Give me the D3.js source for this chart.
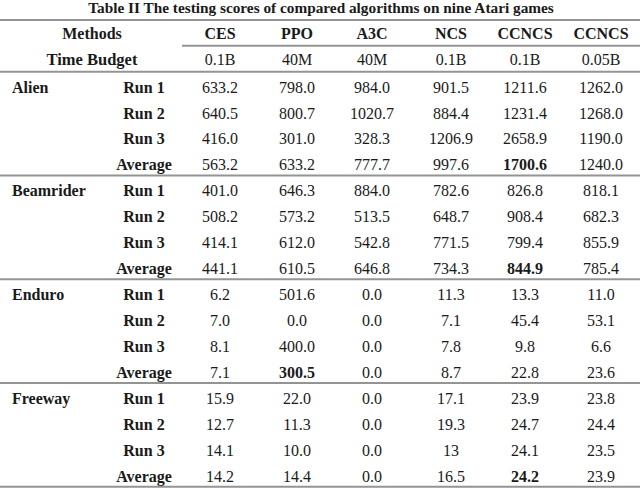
<html>
<head>
<meta charset="utf-8">
<title>Table II</title>
<style>
  body { margin: 0; background: #fff; }
</style>
</head>
<body>
<svg id="chart" width="640" height="488"></svg>
<script src="https://cdn.jsdelivr.net/npm/d3@7/dist/d3.min.js"></script>
<script>
// table contents
const title = "Table II The testing scores of compared algorithms on nine Atari games";
const methods = ["CES", "PPO", "A3C", "NCS", "CCNCS", "CCNCS"];
const budgets = ["0.1B", "40M", "40M", "0.1B", "0.1B", "0.05B"];
const games = ["Alien", "Beamrider", "Enduro", "Freeway"];
const runs = ["Run 1", "Run 2", "Run 3", "Average"];

// one list per method column, rows in order game x run
const ces   = ["633.2","640.5","416.0","563.2", "401.0","508.2","414.1","441.1", "6.2","7.0","8.1","7.1", "15.9","12.7","14.1","14.2"];
const ppo   = ["798.0","800.7","301.0","633.2", "646.3","573.2","612.0","610.5", "501.6","0.0","400.0","300.5", "22.0","11.3","10.0","14.4"];
const a3c   = ["984.0","1020.7","328.3","777.7", "884.0","513.5","542.8","646.8", "0.0","0.0","0.0","0.0", "0.0","0.0","0.0","0.0"];
const ncs   = ["901.5","884.4","1206.9","997.6", "782.6","648.7","771.5","734.3", "11.3","7.1","7.8","8.7", "17.1","19.3","13","16.5"];
const ccncs = ["1211.6","1231.4","2658.9","1700.6", "826.8","908.4","799.4","844.9", "13.3","45.4","9.8","22.8", "23.9","24.7","24.1","24.2"];
const ccncs05 = ["1262.0","1268.0","1190.0","1240.0", "818.1","682.3","855.9","785.4", "11.0","53.1","6.6","23.6", "23.8","24.4","23.5","23.9"];
const columns = [ces, ppo, a3c, ncs, ccncs, ccncs05];

const svg = d3.select("#chart").style("font-family", '"Liberation Serif", "Times New Roman", serif');
const W = 640;
const ink = "#1a1a1a";

// column centres (uneven, as in the source table)
const colX = d3.scaleOrdinal().domain(d3.range(6)).range([220, 297, 372, 451, 525, 601]);
// body rows
const nRows = games.length * runs.length;
const y = d3.scaleBand().domain(d3.range(nRows)).range([72, 487]);

const rule = "#949494";
function hline(x1, x2, yy) {
  svg.append("line").attr("x1", x1).attr("x2", x2).attr("y1", yy).attr("y2", yy)
    .attr("stroke", rule).attr("stroke-width", 2);
}
function label(x, yy, s, opts) {
  return svg.append("text").attr("x", x).attr("y", yy).attr("dy", "0.35em")
    .attr("text-anchor", opts.anchor || "middle")
    .attr("font-weight", opts.bold ? "bold" : "normal")
    .attr("font-size", opts.size || 16).attr("fill", ink).text(s);
}

// title
label(321, 8, title, { bold: true, size: 15.3 });

hline(0, W, 20);
hline(182, W, 45.7);
hline(0, W, 71.7);

// header rows
label(92, 33, "Methods", { bold: true, size: 16 });
label(92, 59, "Time Budget", { bold: true, size: 16.5 });
methods.forEach((m, i) => label(colX(i), 33, m, { bold: true, size: 16 }));
budgets.forEach((b, i) => label(colX(i), 59, b, { size: 16 }));

// body
const rowMid = i => y(i) + y.bandwidth() / 2 + 2;

games.forEach((g, gi) => {
  label(12, rowMid(gi * runs.length), g, { bold: true, anchor: "start", size: 16 });
  runs.forEach((r, ri) => {
    const row = gi * runs.length + ri;
    label(144, rowMid(row), r, { bold: true, size: 16 });
    // best average gets bold
    const best = r === "Average" ? d3.maxIndex(columns, c => +c[row]) : -1;
    columns.forEach((col, ci) => {
      label(colX(ci), rowMid(row), col[row], { bold: ci === best, size: 16 });
    });
  });
  hline(0, W, y(gi * runs.length) + y.bandwidth() * runs.length - 0.3);
});
</script>
</body>
</html>
